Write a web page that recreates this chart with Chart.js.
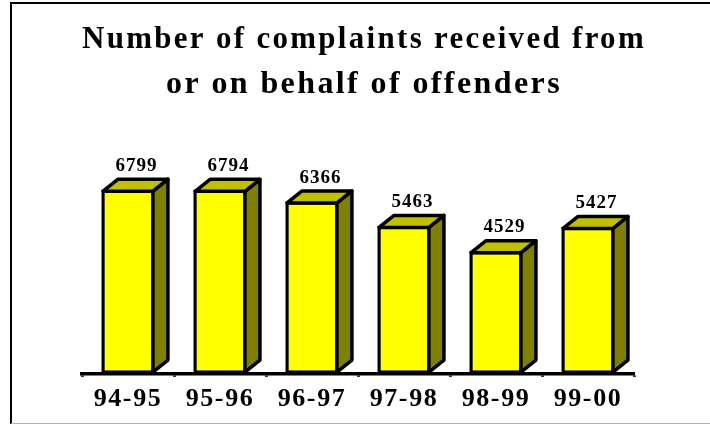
<!DOCTYPE html>
<html>
<head>
<meta charset="utf-8">
<script src="https://cdn.jsdelivr.net/npm/chart.js@4/dist/chart.umd.min.js"></script>
<style>
  body { margin: 0; background: #fff; }
  #wrap { width: 710px; height: 425px; }
</style>
</head>
<body>
<div id="wrap"><canvas id="chart-complaints" width="710" height="425"></canvas></div>
<script>
  /*
    ==================================================
    ====================== DATA ======================
    ==================================================
  */

  let periods = ['94-95', '95-96', '96-97', '97-98', '98-99', '99-00'];
  let complaints = [6799, 6794, 6366, 5463, 4529, 5427];
  let titleLines = ['Number of complaints received from', 'or on behalf of offenders'];

  /*
    ==================================================
    ==================== PLUGINS =====================
    ==================================================
  */

  let serif = '"Liberation Serif", "Times New Roman", serif';

  // frame around the chart + wide letters for the title
  let framePlugin = {
    id: 'frame',
    beforeDraw(chart) {
      let ctx = chart.ctx;
      ctx.save();
      ctx.strokeStyle = '#000';
      ctx.lineWidth = 2;
      ctx.beginPath();
      ctx.moveTo(11, 424);
      ctx.lineTo(11, 3);
      ctx.lineTo(712, 3);
      ctx.stroke();
      ctx.strokeStyle = '#b0b0b0';
      ctx.lineWidth = 1;
      ctx.beginPath();
      ctx.moveTo(11, 423.5);
      ctx.lineTo(712, 423.5);
      ctx.stroke();
      ctx.restore();
      ctx.letterSpacing = '2.4px';
    },
    afterDraw(chart) {
      chart.ctx.letterSpacing = '0px';
    }
  };

  // side and top faces of the bars, value labels on top
  let bar3dPlugin = {
    id: 'bar3d',
    afterDatasetsDraw(chart) {
      let ctx = chart.ctx;
      let dx = 15, dy = 12, bw = 3.5;
      let meta = chart.getDatasetMeta(0);

      ctx.save();
      ctx.lineWidth = bw;
      ctx.lineJoin = 'round';
      ctx.strokeStyle = '#000';

      meta.data.forEach((bar, i) => {
        let { x, y, base, width } = bar.getProps(['x', 'y', 'base', 'width'], true);
        let L = x - width / 2 + bw / 2;
        let R = x + width / 2 - bw / 2;
        let T = y + bw / 2;
        let B = base - bw / 2;

        // side
        ctx.fillStyle = '#808000';
        ctx.beginPath();
        ctx.moveTo(R, T);
        ctx.lineTo(R + dx, T - dy);
        ctx.lineTo(R + dx, B - dy);
        ctx.lineTo(R, B);
        ctx.closePath();
        ctx.fill();
        ctx.stroke();

        // top
        ctx.fillStyle = '#C0C000';
        ctx.beginPath();
        ctx.moveTo(L, T);
        ctx.lineTo(L + dx, T - dy);
        ctx.lineTo(R + dx, T - dy);
        ctx.lineTo(R, T);
        ctx.closePath();
        ctx.fill();
        ctx.stroke();

        // value
        ctx.letterSpacing = '1px';
        ctx.fillStyle = '#000';
        ctx.font = 'bold 19px ' + serif;
        ctx.textAlign = 'center';
        ctx.textBaseline = 'alphabetic';
        ctx.fillText(String(complaints[i]), x + dx / 2 + 1, y - 18.5);
      });

      ctx.restore();
      // tick labels are drawn after this (ticks.z = 1)
      ctx.letterSpacing = '1.6px';
    }
  };

  /*
    ==================================================
    ===================== CHART ======================
    ==================================================
  */

  let ctxComplaints = document.getElementById('chart-complaints').getContext('2d');

  let chartComplaints = new Chart(ctxComplaints, {
    type: 'bar',
    data: {
      labels: periods,
      datasets: [{
        label: 'Complaints',
        data: complaints,
        backgroundColor: '#FFFF00',
        borderColor: '#000',
        borderWidth: 3.5,
        borderSkipped: false,
        barPercentage: 0.58,
        categoryPercentage: 1
      }]
    },
    options: {
      responsive: false,
      animation: false,
      devicePixelRatio: 1,
      layout: { padding: { left: 82, right: 64, top: 0, bottom: 3 } },
      plugins: {
        legend: { display: false },
        tooltip: { enabled: false },
        title: {
          display: true,
          text: titleLines,
          color: '#000',
          font: { family: serif, size: 32, weight: 'bold', lineHeight: 1.41 },
          padding: { top: 17.5, bottom: 22 }
        }
      },
      scales: {
        x: {
          grid: {
            display: true,
            drawOnChartArea: false,
            drawTicks: true,
            tickLength: 3,
            tickWidth: 3,
            tickColor: '#000'
          },
          border: { display: true, color: '#000', width: 3.5 },
          ticks: {
            z: 1,
            color: '#000',
            padding: 7,
            font: { family: serif, size: 26, weight: 'bold', lineHeight: 1.2 }
          }
        },
        y: {
          position: 'right',
          min: 0,
          max: 9000,
          grid: { display: false },
          border: { display: false },
          ticks: { display: false },
          afterFit(scale) { scale.width = 12; }
        }
      }
    },
    plugins: [framePlugin, bar3dPlugin]
  });
</script>
</body>
</html>
